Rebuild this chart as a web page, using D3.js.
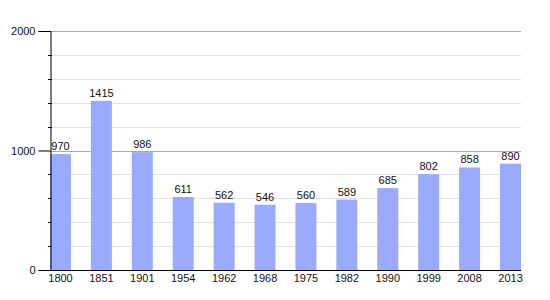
<!DOCTYPE html>
<html>
<head>
<meta charset="utf-8">
<script src="https://cdn.jsdelivr.net/npm/d3@7"></script>
<style>
  body { margin: 0; background: #fff; }
  text { font-family: "Liberation Sans", Arial, sans-serif; }
</style>
</head>
<body>
<div id="chart"></div>
<script>
var years = ["1800", "1851", "1901", "1954", "1962", "1968", "1975", "1982", "1990", "1999", "2008", "2013"];
var population = [970, 1415, 986, 611, 562, 546, 560, 589, 685, 802, 858, 890];
var majorTicks = [0, 1000, 2000];
var minorTicks = [200, 400, 600, 800, 1200, 1400, 1600, 1800];

var chartwidth = 550, chartheight = 300;
var plotLeft = 50, plotRight = 521, plotTop = 31, plotBottom = 270;

var svg = d3.select("#chart")
    .append("svg")
    .attr("width", chartwidth)
    .attr("height", chartheight);

var x = d3.scaleBand()
    .domain(years)
    .range([plotLeft, plotRight])
    .paddingInner(0.487)
    .paddingOuter(0);

var y = d3.scaleLinear()
    .domain([0, 2000])
    .range([plotBottom, plotTop]);

// minor grid
svg.selectAll(".minor")
    .data(minorTicks)
    .enter()
    .append("line")
    .attr("x1", plotLeft).attr("x2", plotRight)
    .attr("y1", function(d) { return Math.round(y(d)) + 0.5; })
    .attr("y2", function(d) { return Math.round(y(d)) + 0.5; })
    .attr("stroke", "#e0e0e0");

// major grid
svg.selectAll(".major")
    .data(majorTicks.slice(1))
    .enter()
    .append("line")
    .attr("x1", plotLeft).attr("x2", plotRight)
    .attr("y1", function(d) { return Math.round(y(d)) + 0.5; })
    .attr("y2", function(d) { return Math.round(y(d)) + 0.5; })
    .attr("stroke", "#aaaaaa");

// bars
svg.selectAll(".bar")
    .data(population)
    .enter()
    .append("rect")
    .attr("x", function(d, i) { return x(years[i]); })
    .attr("y", function(d) { return y(d); })
    .attr("width", x.bandwidth())
    .attr("height", function(d) { return y(0) - y(d); })
    .attr("fill", "#99aaff");

// value labels
svg.selectAll(".val")
    .data(population)
    .enter()
    .append("text")
    .attr("x", function(d, i) { return x(years[i]) + x.bandwidth() / 2; })
    .attr("y", function(d) { return y(d) - 4; })
    .attr("text-anchor", "middle")
    .style("font-size", "11px")
    .attr("fill", "#111")
    .text(function(d) { return d; });

// y axis
var yAxis = d3.axisLeft(y)
    .tickValues(majorTicks)
    .tickSize(12)
    .tickPadding(3)
    .tickFormat(d3.format("d"));

var gy = svg.append("g")
    .attr("transform", "translate(" + (plotLeft + 0.5) + ",0)")
    .call(yAxis);
gy.select(".domain").attr("stroke", "#000");
gy.selectAll("line").attr("stroke", "#000");
gy.selectAll("text").style("font-size", "11px").attr("fill", "#111").attr("font-family", "Liberation Sans, Arial, sans-serif");

svg.selectAll(".mtick")
    .data(minorTicks)
    .enter()
    .append("line")
    .attr("x1", plotLeft - 2).attr("x2", plotLeft + 2)
    .attr("y1", function(d) { return Math.round(y(d)) + 0.5; })
    .attr("y2", function(d) { return Math.round(y(d)) + 0.5; })
    .attr("stroke", "#000");

// x axis
var xAxis = d3.axisBottom(x).tickSize(0).tickPadding(4);
var gx = svg.append("g")
    .attr("transform", "translate(0," + (plotBottom + 0.5) + ")")
    .call(xAxis);
gx.select(".domain").attr("stroke", "#000").attr("d", "M" + plotLeft + ",0H" + plotRight);
gx.selectAll("text").style("font-size", "11px").attr("fill", "#111").attr("font-family", "Liberation Sans, Arial, sans-serif");
</script>
</body>
</html>
